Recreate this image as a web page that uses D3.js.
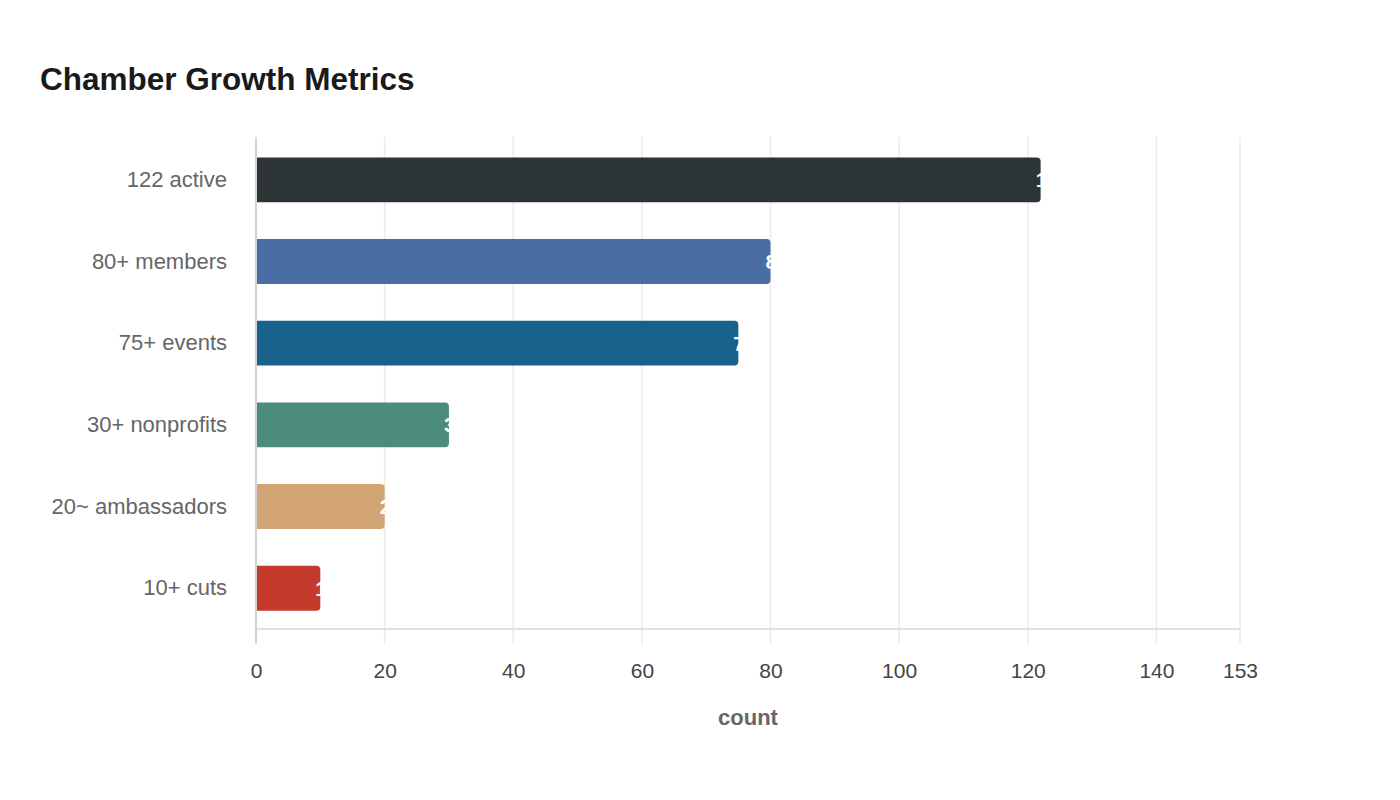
<!DOCTYPE html>
<html>
<head>
<meta charset="utf-8">
<script src="https://cdn.jsdelivr.net/npm/d3@7"></script>
<style>
    body { margin: 0; background: #fff; font-family: "Liberation Sans", Arial, sans-serif; }
</style>
</head>
<body>
<div id="chart"></div>
<script>
// data
const categories = ["122 active", "80+ members", "75+ events", "30+ nonprofits", "20~ ambassadors", "10+ cuts"];
const values = [122, 80, 75, 30, 20, 10];
const barColors = ["#2d3436", "#4a6da3", "#17618a", "#4c8c7b", "#d4a574", "#c43b2d"];
const xTicks = [0, 20, 40, 60, 80, 100, 120, 140, 153];
const xMax = 153;

const width = 1400, height = 800;
const margin = {top: 137, right: 160, bottom: 171, left: 256};
const innerW = width - margin.left - margin.right;
const innerH = height - margin.top - margin.bottom;

const svg = d3.select("#chart").append("svg")
    .attr("width", width)
    .attr("height", height);

// title
svg.append("text")
    .attr("x", 40)
    .attr("y", 90)
    .attr("font-size", 31.5)
    .attr("font-weight", "bold")
    .attr("fill", "#1a1a1a")
    .text("Chamber Growth Metrics");

const g = svg.append("g")
    .attr("transform", `translate(${margin.left},${margin.top})`);

const x = d3.scaleLinear().domain([0, xMax]).range([0, innerW]);
const y = d3.scaleBand().domain(categories).range([2, innerH])
    .paddingInner(0.45).paddingOuter(0.225);

// grid lines
g.append("g")
    .selectAll("line")
    .data(xTicks)
    .join("line")
    .attr("x1", d => x(d)).attr("x2", d => x(d))
    .attr("y1", 0).attr("y2", innerH + 15)
    .attr("stroke", "#ebebeb")
    .attr("stroke-width", 1.5);

// bottom axis line
g.append("line")
    .attr("x1", 0).attr("x2", x(xMax))
    .attr("y1", innerH).attr("y2", innerH)
    .attr("stroke", "#e0e0e0")
    .attr("stroke-width", 2);

// x tick labels
const xAxis = d3.axisBottom(x).tickValues(xTicks).tickSize(0).tickPadding(34).tickFormat(d3.format("d"));
g.append("g")
    .attr("transform", `translate(0,${innerH})`)
    .call(xAxis)
    .call(a => a.select(".domain").remove())
    .selectAll("text")
    .attr("font-family", "Liberation Sans, Arial, sans-serif")
    .attr("font-size", 21)
    .attr("fill", "#444");

// y labels
const yAxis = d3.axisLeft(y).tickSize(0).tickPadding(29);
g.append("g")
    .call(yAxis)
    .call(a => a.select(".domain").remove())
    .selectAll("text")
    .attr("font-family", "Liberation Sans, Arial, sans-serif")
    .attr("font-size", 22)
    .attr("fill", "#666");

// bars with rounded right end
const r = 4;
function barPath(w, h) {
    return `M0,0 H${w - r} Q${w},0 ${w},${r} V${h - r} Q${w},${h} ${w - r},${h} H0 Z`;
}

const rows = categories.map((c, i) => ({cat: c, val: values[i], color: barColors[i]}));

g.selectAll(".bar")
    .data(rows)
    .join("path")
    .attr("class", "bar")
    .attr("transform", d => `translate(0,${y(d.cat)})`)
    .attr("d", d => barPath(x(d.val), y.bandwidth()))
    .attr("fill", d => d.color);

// left axis line (over the bars)
g.append("line")
    .attr("x1", 0).attr("x2", 0)
    .attr("y1", 0).attr("y2", innerH + 15)
    .attr("stroke", "#d4d4d4")
    .attr("stroke-width", 2);

// value labels (white, starting just inside bar end)
g.selectAll(".val")
    .data(rows)
    .join("text")
    .attr("class", "val")
    .attr("x", d => x(d.val) - 5)
    .attr("y", d => y(d.cat) + y.bandwidth() / 2)
    .attr("dy", "0.35em")
    .attr("font-size", 21)
    .attr("font-weight", "bold")
    .attr("fill", "#fff")
    .text(d => d.val);

// x axis title
svg.append("text")
    .attr("x", margin.left + innerW / 2)
    .attr("y", 725)
    .attr("text-anchor", "middle")
    .attr("font-size", 22)
    .attr("font-weight", "bold")
    .attr("fill", "#666")
    .text("count");
</script>
</body>
</html>
